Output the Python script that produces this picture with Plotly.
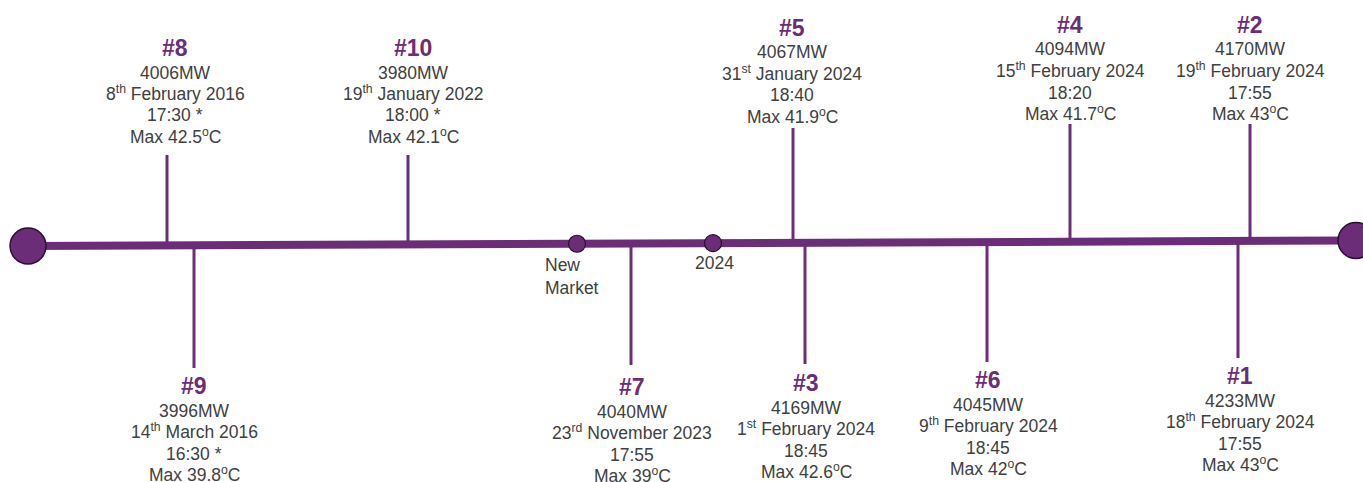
'''
Timeline of the ten highest peak demand events (MW), with max temperature.
'''

import numpy as np
import plotly.graph_objects as go

# ---- data ----
ranks = [8, 10, 9, 7, 5, 3, 6, 4, 2, 1]
demand_mw = [4006, 3980, 3996, 4040, 4067, 4169, 4045, 4094, 4170, 4233]
dates = [
    '8<sup>th</sup> February 2016',
    '19<sup>th</sup> January 2022',
    '14<sup>th</sup> March 2016',
    '23<sup>rd</sup> November 2023',
    '31<sup>st</sup> January 2024',
    '1<sup>st</sup> February 2024',
    '9<sup>th</sup> February 2024',
    '15<sup>th</sup> February 2024',
    '19<sup>th</sup> February 2024',
    '18<sup>th</sup> February 2024',
]
times = ['17:30 *', '18:00 *', '16:30 *', '17:55', '18:40',
         '18:45', '18:45', '18:20', '17:55', '17:55']
max_temps = ['42.5', '42.1', '39.8', '39', '41.9', '42.6', '42', '41.7', '43', '43']

milestones = ['New<br>Market', '2024']

# ---- layout (pixel positions on the drawing) ----
W, H = 1363, 482
PURPLE = '#6B2D78'
DARK = '#2A0F30'
TEXT = '#404040'
FONT = 'Liberation Sans, Arial, sans-serif'

line_x = [28, 1356]
line_y = [246, 240.5]
event_x = [167, 408, 194, 631, 793, 805, 987, 1070, 1250, 1238]
label_x = [175, 413, 194, 632, 792, 806, 988, 1070, 1250, 1240]
stem_end = [155, 155, 368, 365, 128, 364, 362, 124, 124, 358]
head_y = [48, 48, 386, 387, 28, 383, 380, 25, 25, 376]
milestone_x = [577, 713]


def paper_y(py):
    # pixel row -> paper fraction (paper refs are not clipped at the axis range)
    return 1 - py / H


fig = go.Figure()

# stems
for x, y_end in zip(event_x, stem_end):
    y0 = float(np.interp(x, line_x, line_y))
    fig.add_trace(go.Scatter(x=[x, x], y=[y0, y_end], mode='lines',
                             line={'color': PURPLE, 'width': 3},
                             hoverinfo='skip', showlegend=False))

# main line
fig.add_trace(go.Scatter(x=line_x, y=line_y, mode='lines',
                         line={'color': PURPLE, 'width': 8},
                         hoverinfo='skip', showlegend=False))

# end circles
fig.add_trace(go.Scatter(x=line_x, y=line_y, mode='markers',
                         marker={'size': 36, 'color': PURPLE,
                                 'line': {'color': DARK, 'width': 1.5}},
                         hoverinfo='skip', showlegend=False))

# milestone circles
milestone_y = np.interp(milestone_x, line_x, line_y)
fig.add_trace(go.Scatter(x=milestone_x, y=milestone_y, mode='markers',
                         marker={'size': 17, 'color': PURPLE,
                                 'line': {'color': DARK, 'width': 1.2}},
                         hoverinfo='skip', showlegend=False))

fig.add_annotation(x=543, y=paper_y(253), yref='paper', text=milestones[0],
                   showarrow=False, xanchor='left', yanchor='top', align='left',
                   font={'size': 17.5, 'color': TEXT, 'family': FONT})
fig.add_annotation(x=714, y=paper_y(263), yref='paper', text=milestones[1],
                   showarrow=False, yanchor='middle',
                   font={'size': 17.5, 'color': TEXT, 'family': FONT})

# event labels (bottom-anchored so superscripts don't shift the baseline)
for i, x in enumerate(label_x):
    fig.add_annotation(x=x, y=paper_y(head_y[i]), yref='paper',
                       text=f'<b>#{ranks[i]}</b>', showarrow=False, yanchor='middle',
                       font={'size': 23, 'color': PURPLE, 'family': FONT})
    body = [f'{demand_mw[i]}MW', dates[i], times[i],
            f'Max {max_temps[i]}<sup>o</sup>C']
    for j, line in enumerate(body):
        py = head_y[i] + 24 + j * 21.5 + 12.5
        fig.add_annotation(x=x, y=paper_y(py), yref='paper', text=line,
                           showarrow=False, yanchor='bottom',
                           font={'size': 17.5, 'color': TEXT, 'family': FONT})

fig.update_layout(
    width=W, height=H,
    margin={'l': 0, 'r': 0, 't': 0, 'b': 0},
    plot_bgcolor='white', paper_bgcolor='white',
    xaxis={'range': [0, W], 'visible': False, 'fixedrange': True},
    yaxis={'range': [H, 0], 'visible': False, 'fixedrange': True},
    showlegend=False,
)

# the page body has a default 8px margin; drop it so the figure fills the window
fig.write_html('out.html', config={'displayModeBar': False},
               post_script="document.body.style.margin = '0';")
